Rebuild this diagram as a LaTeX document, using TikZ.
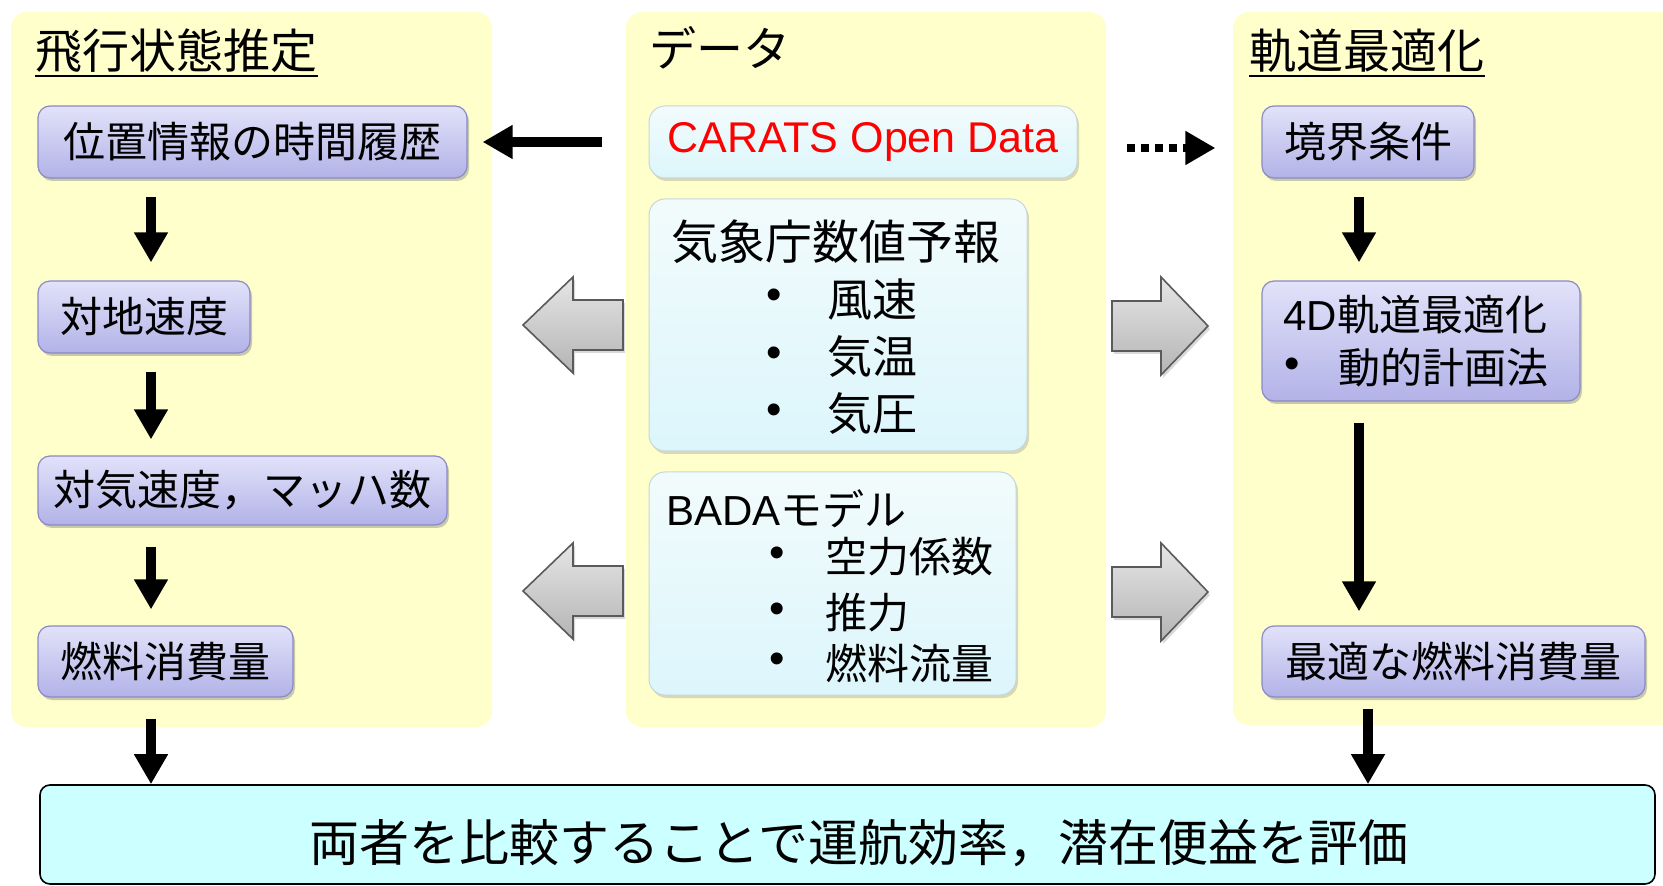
\documentclass[tikz,border=0pt]{standalone}
\usepackage{fontspec}
\setmainfont{Liberation Sans}
\newfontfamily\jp{Noto Sans CJK JP}
\usetikzlibrary{arrows.meta,shadows,calc}
\definecolor{panelY}{HTML}{FFFFCC}
\definecolor{pTop}{HTML}{E2E2FA}
\definecolor{pBot}{HTML}{B2B2E8}
\definecolor{pLine}{HTML}{8A8AC6}
\definecolor{mTop}{HTML}{F2FBFC}
\definecolor{mBot}{HTML}{DCF6FC}
\definecolor{mLine}{HTML}{C8D6DA}
\definecolor{botFill}{HTML}{CCFFFF}
\definecolor{gTop}{HTML}{E6E6E6}
\definecolor{gBot}{HTML}{B4B4B4}
\definecolor{gLine}{HTML}{5A5A5A}
\begin{document}
\begin{tikzpicture}[x=0.5pt,y=-0.5pt,
  panel/.style={fill=panelY,draw=none,rounded corners=8pt},
  pbox/.style={draw=pLine,line width=0.6pt,rounded corners=6pt,top color=pTop,bottom color=pBot,
    drop shadow={shadow xshift=1pt,shadow yshift=-1.5pt,opacity=0.35,fill=black!60},
    inner sep=0pt,font=\jp\fontsize{21pt}{25pt}\selectfont},
  mbox/.style={draw=mLine,line width=0.5pt,rounded corners=8pt,top color=mTop,bottom color=mBot,
    drop shadow={shadow xshift=1pt,shadow yshift=-1.5pt,opacity=0.3,fill=black!50},inner sep=0pt},
  ttl/.style={inner sep=0pt,anchor=base west,font=\jp\fontsize{23.5pt}{28pt}\selectfont},
  ul/.style={line width=1pt},
  txt/.style={inner sep=0pt,anchor=west,font=\jp\fontsize{21pt}{25pt}\selectfont},
  bul/.style={inner sep=0pt,font=\fontsize{22pt}{26pt}\selectfont},
  blk/.style={line width=5pt,-{Triangle[width=16pt,length=15pt]}},
  dots/.style={line width=4pt,dash pattern=on 4pt off 3pt,-{Triangle[width=16pt,length=15pt]}},
  garrow/.style={draw=gLine,line width=0.8pt,top color=gTop,bottom color=gBot,line join=miter,
    drop shadow={shadow xshift=1pt,shadow yshift=-1.5pt,opacity=0.3,fill=black!50}}
]
\useasboundingbox (0,0) rectangle (1663,886);
% panels
\path[panel] (11,12) rectangle (492,727);
\path[panel] (626,12) rectangle (1106,727);
\path[panel] (1233,12) rectangle (1690,725);
% titles
\node[ttl] (t1) at (35,69) {飛行状態推定};
\draw[ul] ([yshift=-3.5pt]t1.base west) -- ([yshift=-3.5pt]t1.base east);
\node[ttl] (t2) at (649,67) {データ};
\node[ttl] (t3) at (1249,69) {軌道最適化};
\draw[ul] ([yshift=-3.5pt]t3.base west) -- ([yshift=-3.5pt]t3.base east);
% left column
\node[pbox,minimum width=214.5pt,minimum height=36pt] (b1) at (252.5,142) {位置情報の時間履歴};
\node[pbox,minimum width=106pt,minimum height=36pt] (b2) at (144,317) {対地速度};
\node[pbox,minimum width=204.5pt,minimum height=34.5pt] (b3) at (242.5,490.5) {対気速度，マッハ数};
\node[pbox,minimum width=127.5pt,minimum height=35.5pt] (b4) at (165.5,661.5) {燃料消費量};
% middle column
\node[mbox,minimum width=214pt,minimum height=36pt,text=red,font=\fontsize{21.5pt}{25pt}\selectfont] (m1) at (863,142) {CARATS Open Data};
\node[mbox,minimum width=189pt,minimum height=126pt] (m2) at (838,325) {};
\node[txt,font=\jp\fontsize{23.5pt}{28pt}\selectfont] (m2t) at (671,242) {気象庁数値予報};
\node[bul] (m2b1) at (774,299) {•};
\node[txt,font=\jp\fontsize{22.5pt}{27pt}\selectfont] (m2i1) at (827,299) {風速};
\node[bul] (m2b2) at (774,357) {•};
\node[txt,font=\jp\fontsize{22.5pt}{27pt}\selectfont] (m2i2) at (827,357) {気温};
\node[bul] (m2b3) at (774,414) {•};
\node[txt,font=\jp\fontsize{22.5pt}{27pt}\selectfont] (m2i3) at (827,414) {気圧};
\node[mbox,minimum width=183.5pt,minimum height=111.5pt] (m3) at (832.5,583.5) {};
\node[txt,font=\fontsize{21pt}{25pt}\selectfont] (m3t) at (666,509) {BADA{\jp モデル}};
\node[bul] (m3b1) at (777,557) {•};
\node[txt] (m3i1) at (825,557) {空力係数};
\node[bul] (m3b2) at (777,613) {•};
\node[txt] (m3i2) at (825,613) {推力};
\node[bul] (m3b3) at (777,663) {•};
\node[txt] (m3i3) at (825,663) {燃料流量};
% right column
\node[pbox,minimum width=106pt,minimum height=36pt] (r1) at (1368,142) {境界条件};
\node[pbox,minimum width=159pt,minimum height=60pt] (r2) at (1421,341) {};
\node[txt,font=\fontsize{21pt}{25pt}\selectfont] (r2t) at (1283,315) {4D{\jp 軌道最適化}};
\node[bul] (r2b) at (1292,368) {•};
\node[txt] (r2i) at (1338,368) {動的計画法};
\node[pbox,minimum width=191.5pt,minimum height=35.5pt] (r3) at (1453.5,661.5) {最適な燃料消費量};
% bottom box
\node[draw=black,line width=0.8pt,fill=botFill,rounded corners=5pt,minimum width=807.5pt,minimum height=49.5pt,inner sep=0pt] (bot) at (847.5,834.5) {};
\node[inner sep=0pt,font=\jp\fontsize{25pt}{30pt}\selectfont] (bott) at (859,843) {両者を比較することで運航効率，潜在便益を評価};
% column coordinates
\coordinate (cL) at (151,0);
\coordinate (cR) at (1359,0);
\coordinate (cR2) at (1368,0);
% black arrows
\draw[blk,shorten <=9pt,shorten >=9pt] (b1.south -| cL) -- (b2.north -| cL);
\draw[blk,shorten <=9pt,shorten >=8pt] (b2.south -| cL) -- (b3.north -| cL);
\draw[blk,shorten <=10.5pt,shorten >=8pt] (b3.south -| cL) -- (b4.north -| cL);
\draw[blk,shorten <=10.5pt] (b4.south -| cL) -- (bot.north -| cL);
\draw[blk,shorten <=9pt,shorten >=9pt] (r1.south -| cR) -- (r2.north -| cR);
\draw[blk,shorten <=10.5pt,shorten >=7pt] (r2.south -| cR) -- (r3.north -| cR);
\draw[blk,shorten <=5.5pt] (r3.south -| cR2) -- (bot.north -| cR2);
\draw[blk,shorten <=23.5pt,shorten >=7.5pt] (m1.west) -- (b1.east);
\draw[dots,shorten <=24.5pt,shorten >=23pt] ([yshift=-3pt]m1.east) -- ([yshift=-3pt]r1.west);
% gray block arrows
\path[garrow] (523,325) -- (573,277) -- (573,300) -- (623,300) -- (623,350) -- (573,350) -- (573,373) -- cycle;
\path[garrow] (1112,301) -- (1161,301) -- (1161,277) -- (1208,326) -- (1161,375) -- (1161,351) -- (1112,351) -- cycle;
\begin{scope}[shift={(0,266)}]
\path[garrow] (523,325) -- (573,277) -- (573,300) -- (623,300) -- (623,350) -- (573,350) -- (573,373) -- cycle;
\path[garrow] (1112,301) -- (1161,301) -- (1161,277) -- (1208,326) -- (1161,375) -- (1161,351) -- (1112,351) -- cycle;
\end{scope}
\end{tikzpicture}
\end{document}
